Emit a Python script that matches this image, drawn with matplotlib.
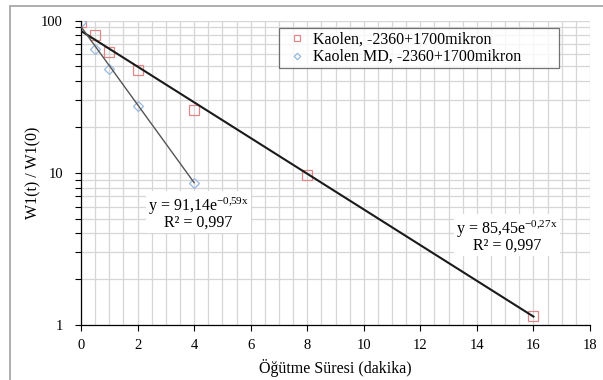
import numpy as np
import matplotlib
matplotlib.use("Agg")
import matplotlib.pyplot as plt
from matplotlib.patches import Rectangle
from matplotlib.ticker import FixedLocator, NullFormatter, MultipleLocator

plt.rcParams['font.family'] = ['Liberation Serif', 'DejaVu Serif']
plt.rcParams['mathtext.fontset'] = 'custom'
plt.rcParams['mathtext.rm'] = 'Liberation Serif'
plt.rcParams['mathtext.it'] = 'Liberation Serif:italic'

# -----------------------------
# Data
# -----------------------------
kaolen_t = [0, 0.5, 1, 2, 4, 8, 16]
kaolen_w = [98, 80.5, 62, 47.3, 25.9, 9.7, 1.14]

kaolen_md_t = [0, 0.5, 1, 2, 4]
kaolen_md_w = [98, 64.9, 48, 27.6, 8.5]

# exponential trend lines: y = a * exp(b x)
fit_kaolen = (85.45, -0.27)
fit_kaolen_md = (91.14, -0.59)

x_ticks = [0, 2, 4, 6, 8, 10, 12, 14, 16, 18]
y_ticks = [1, 10, 100]

# -----------------------------
# Figure
# -----------------------------
W, H = 603, 380
fig = plt.figure(figsize=(W / 100, H / 100), dpi=100)
# outer chart frame (runs off the right and bottom edges)
fig.patches.append(Rectangle((10 / W, -0.05), 1.0, 1 - 6 / H + 0.05,
                             transform=fig.transFigure, fill=False,
                             edgecolor='#a8a8a8', linewidth=1.3))

ax = fig.add_axes([81 / W, 1 - 325 / H, (590 - 81) / W, (325 - 20.5) / H])
ax.set_yscale('log')
ax.set_xlim(0, 18)
ax.set_ylim(1, 100)

# grid
ax.xaxis.set_minor_locator(MultipleLocator(0.5))
minor_y = [m * 10 ** e for e in (0, 1) for m in range(2, 10)]
ax.yaxis.set_minor_locator(FixedLocator(minor_y))
ax.yaxis.set_minor_formatter(NullFormatter())
ax.grid(True, which='both', color='#d6d6d6', linewidth=0.9)
ax.set_axisbelow(True)

for s in ('top', 'right'):
    ax.spines[s].set_visible(False)
for s in ('left', 'bottom'):
    ax.spines[s].set_color('black')
    ax.spines[s].set_linewidth(0.9)

ax.set_xticks(x_ticks)
ax.set_yticks(y_ticks)
ax.set_yticklabels([str(v) for v in y_ticks])
ax.tick_params(axis='both', which='major', direction='out', length=4,
               width=0.8, labelsize=10.5, colors='black')
ax.tick_params(axis='y', which='major', pad=9)
ax.tick_params(axis='x', which='major', pad=6)
ax.tick_params(axis='x', which='minor', length=0)
ax.tick_params(axis='y', which='minor', direction='out', length=4, width=0.8)

# trend lines
t1 = np.linspace(0, 16, 100)
ax.plot(t1, fit_kaolen[0] * np.exp(fit_kaolen[1] * t1), color='#1a1a1a',
        linewidth=1.5, zorder=3)
t2 = np.linspace(0, 4, 50)
ax.plot(t2, fit_kaolen_md[0] * np.exp(fit_kaolen_md[1] * t2), color='#555555',
        linewidth=1.0, zorder=3)

# data markers
ax.plot(kaolen_t, kaolen_w, linestyle='none', marker='s', markersize=7,
        markerfacecolor='none', markeredgecolor='#e08888', markeredgewidth=0.9,
        label='Kaolen, -2360+1700mikron', zorder=2.5)
ax.plot(kaolen_md_t, kaolen_md_w, linestyle='none', marker='D', markersize=5.5,
        markerfacecolor='none', markeredgecolor='#98b8e0', markeredgewidth=0.9,
        label='Kaolen MD, -2360+1700mikron', zorder=2.5)

# legend box spans 279..559 px horizontally, top at 28 px
lx0 = (279 - 81) / 509
lx1 = (559 - 81) / 509
ltop = 1 - (28 - 20.5) / 304.5
leg = ax.legend(loc='upper left', bbox_to_anchor=(lx0, ltop - 0.2, lx1 - lx0, 0.2),
                mode='expand', fontsize=11.5, frameon=True, fancybox=False,
                handletextpad=0.1, borderpad=0.2, handlelength=1.8,
                labelspacing=0.12, borderaxespad=0, markerscale=0.6)
leg.get_frame().set_edgecolor('#505050')
leg.get_frame().set_linewidth(0.9)

# equations
box = dict(facecolor='white', edgecolor='none', pad=1.5)
ax.text(4.14, 5.44, 'y = 91,14e$^{\\mathrm{-0{,}59x}}$\nR² = 0,997', ha='center',
        va='center', fontsize=11.5, linespacing=0.85, bbox=box, zorder=5)
ax.text(15.07, 3.84, 'y = 85,45e$^{\\mathrm{-0{,}27x}}$\nR² = 0,997', ha='center',
        va='center', fontsize=11.5, linespacing=0.85, bbox=box, zorder=5)

ax.set_ylabel('W1(t) / W1(0)', fontsize=11.5, labelpad=0)
ax.set_xlabel('Öğütme Süresi (dakika)', fontsize=11.5, labelpad=5)

fig.savefig('out.png', dpi=100)
